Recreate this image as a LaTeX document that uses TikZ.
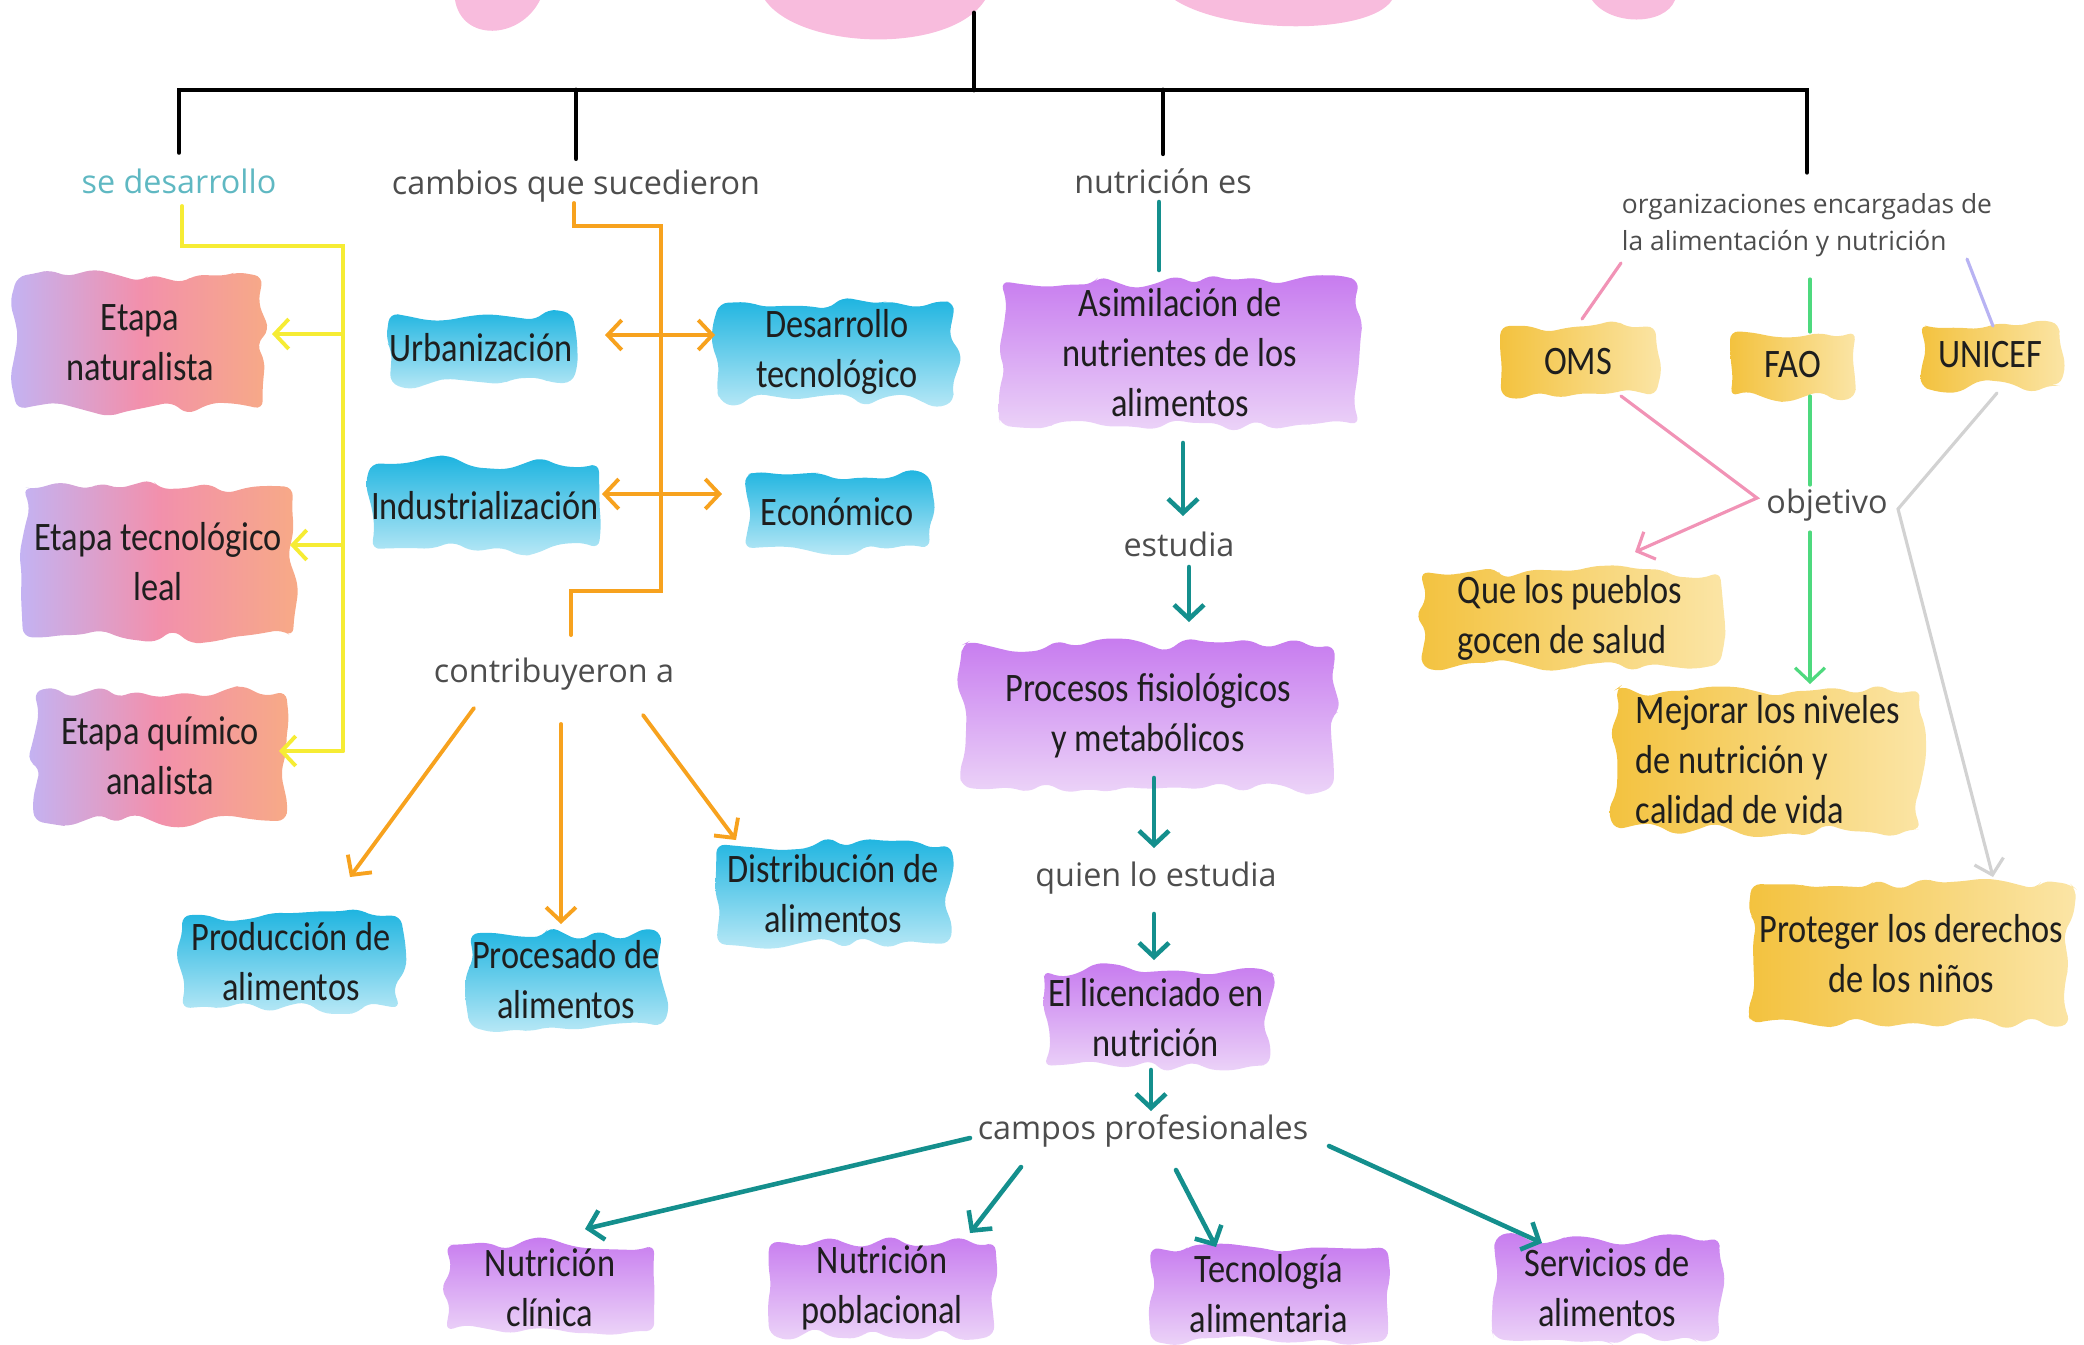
\documentclass[tikz,border=0pt]{standalone}
\usepackage{fontspec}
\setmainfont{Open Sans}
\newfontfamily\boxfont[FakeStretch=0.85]{Carlito}
\usetikzlibrary{arrows.meta,calc,decorations.pathmorphing}

\definecolor{titlepink}{HTML}{F8BCDD}
\definecolor{lblgray}{HTML}{4D4D4D}
\definecolor{sdteal}{HTML}{5FB8C2}
\definecolor{boxtext}{HTML}{1E1E1E}
\definecolor{etL}{HTML}{C3B3F3}
\definecolor{etM}{HTML}{F290AC}
\definecolor{etR}{HTML}{F7AA86}
\definecolor{cyanD}{HTML}{1DB4E0}
\definecolor{cyanL}{HTML}{B8E8F6}
\definecolor{lilaD}{HTML}{C77BEF}
\definecolor{lilaL}{HTML}{ECD4F8}
\definecolor{goldD}{HTML}{F3C23E}
\definecolor{goldL}{HTML}{FBE5A6}
\definecolor{ylw}{HTML}{F6EC34}
\definecolor{orng}{HTML}{F7A21E}
\definecolor{tl}{HTML}{148F8D}
\definecolor{pnk}{HTML}{F193B6}
\definecolor{grn}{HTML}{4ED97E}
\definecolor{lav}{HTML}{B8B3F3}
\definecolor{gry}{HTML}{D2D2D2}

\def\washamp{2.2pt}

\begin{document}
\begin{tikzpicture}[x=0.01cm, y=-0.01cm, line cap=round, >={Straight Barb[length=4pt,width=8.5pt]}]
    \pgfmathsetseed{12}
    \tikzstyle{lbl}=[font=\fontsize{9.2}{11}\selectfont, text=lblgray, inner sep=1pt]
    \tikzstyle{blob}=[align=center, font=\boxfont\fontsize{11.5}{14.2}\selectfont, text=boxtext, inner sep=0pt]
    \tikzset{bsz/.style 2 args={minimum width=#1*0.01cm, minimum height=#2*0.01cm}}
    \tikzstyle{wash}=[decorate, decoration={random steps, segment length=6pt, amplitude=\washamp}, rounded corners=2.5pt]
    \tikzstyle{etapa}=[blob, preaction={wash, left color=etL, right color=etR, middle color=etM}]
    \tikzstyle{cambio}=[blob, preaction={wash, top color=cyanD, bottom color=cyanL}]
    \tikzstyle{nutri}=[blob, preaction={wash, top color=lilaD, bottom color=lilaL}]
    \tikzstyle{organ}=[blob, preaction={wash, left color=goldD, right color=goldL}]
    \tikzstyle{tree}=[line width=1.4pt, draw=black]
    \tikzstyle{yline}=[line width=1.1pt, draw=ylw]
    \tikzstyle{oline}=[line width=1.1pt, draw=orng]
    \tikzstyle{tline}=[line width=1.3pt, draw=tl]
    \tikzstyle{thin}=[line width=0.9pt]

    \useasboundingbox (0,0) rectangle (2084,1344);

    % Title blob, cut by the top edge
    \fill[titlepink] (455,0) .. controls (462,42) and (520,40) .. (540,0) -- cycle;
    \fill[titlepink] (765,0) .. controls (800,50) and (950,55) .. (985,0) -- cycle;
    \fill[titlepink] (1175,0) .. controls (1230,35) and (1370,35) .. (1392,0) -- cycle;
    \fill[titlepink] (1592,0) .. controls (1610,26) and (1665,26) .. (1675,0) -- cycle;

    % Draw the linking words
    \node[lbl, text=sdteal] (SD) at (179,181) {se desarrollo};
    \node[lbl] (CB) at (576,186) {cambios que sucedieron};
    \node[lbl] (NE) at (1163,181) {nutrición es};
    \node[lbl, align=left, font=\fontsize{7.5}{10.5}\selectfont] (ORG) at (1807,225) {organizaciones encargadas de\\la alimentación y nutrición};
    \node[lbl] (CA) at (554,674) {contribuyeron a};
    \node[lbl] (ES) at (1179,544) {estudia};
    \node[lbl] (QE) at (1156,878) {quien lo estudia};
    \node[lbl] (CP) at (1143,1131) {campos profesionales};
    \node[lbl] (OB) at (1827,505) {objetivo};

    % Draw the stages
    \node[etapa, bsz={246}{133}] (E-1) at (140,343) {Etapa\\naturalista};
    \node[etapa, bsz={270}{150}] (E-2) at (158,562) {Etapa tecnológico\\leal};
    \node[etapa, bsz={252}{130}] (E-3) at (160,756) {Etapa químico\\analista};

    % Draw the changes
    \node[cambio, bsz={180}{70}] (UR) at (481,348) {Urbanización};
    \node[cambio, bsz={236}{98}] (DT) at (837,352) {Desarrollo\\tecnológico};
    \node[cambio, bsz={226}{86}] (IN) at (485,506) {Industrialización};
    \node[cambio, bsz={186}{73}] (EC) at (837,512) {Económico};
    \node[cambio, bsz={219}{93}] (PR) at (291,962) {Producción de\\alimentos};
    \node[cambio, bsz={193}{93}] (PC) at (566,980) {Procesado de\\alimentos};
    \node[cambio, bsz={233}{100}] (DI) at (833,894) {Distribución de\\alimentos};

    % Draw the nutrition column
    \node[nutri, bsz={359}{144}] (AS) at (1180,353) {Asimilación de\\nutrientes de los\\alimentos};
    \node[nutri, bsz={372}{142}] (PF) at (1148,716) {Procesos fisiológicos\\y metabólicos};
    \node[nutri, bsz={226}{96}] (LN) at (1156,1018) {El licenciado en\\nutrición};
    \node[nutri, bsz={209}{87}] (NC) at (550,1288) {Nutrición\\clínica};
    \node[nutri, bsz={226}{93}] (NP) at (882,1288) {Nutrición\\poblacional};
    \node[nutri, bsz={237}{94}] (TA) at (1269,1294) {Tecnología\\alimentaria};
    \node[nutri, bsz={226}{100}] (SA) at (1607,1288) {Servicios de\\alimentos};

    % Draw the organizations and their aims
    \node[organ, bsz={155}{70}] (OMS) at (1578,361) {OMS};
    \node[organ, bsz={126}{66}] (FAO) at (1793,364) {FAO};
    \node[organ, bsz={140}{62}] (UNI) at (1990,355) {UNICEF};
    \node[organ, bsz={300}{93}, align=left] (QP) at (1570,618) {Que los pueblos\\gocen de salud};
    \node[organ, bsz={306}{140}, align=left] (ME) at (1768,760) {Mejorar los niveles\\de nutrición y\\calidad de vida};
    \node[organ, bsz={319}{140}] (PD) at (1911,954) {Proteger los derechos\\de los niños};

    % Title tree
    \coordinate (T) at (974,13);
    \coordinate (B) at (974,90);
    \draw[tree] (T) -- (B);
    \draw[tree, shorten <=3.4pt, shorten >=4.8pt] (SD.north) |- (B) -| (ORG.north);
    \draw[tree, shorten >=2pt] (CB.north |- B) -- (CB.north);
    \draw[tree, shorten >=3pt] (NE.north |- B) -- (NE.north);

    % Stages: yellow bus
    \coordinate (ytop) at (343,246);
    \coordinate (ybot) at (343,751);
    \draw[yline] ($(SD)+(3,25)$) |- (ytop) -- (ybot);
    \foreach \e/\dx/\dy in {1/132/-9, 2/132/-17, 3/119/-5} {
        \path ($(E-\e)+(\dx,\dy)$) coordinate (tip-\e);
        \draw[yline,->] (ybot |- tip-\e) -- (tip-\e);
    }

    % Changes: orange bus
    \coordinate (otop) at (661,226);
    \coordinate (obot) at (661,591);
    \draw[oline] ($(CB)+(-2,17)$) |- (otop) -- (obot) -| ($(CA)+(17,-39)$);
    \draw[oline,<->] ($(UR)+(124,-13)$) -- ($(DT)+(-122,-17)$);
    \draw[oline,<->] ($(IN)+(117,-12)$) -- ($(EC)+(-115,-18)$);
    \foreach \b/\sx/\sy/\ex/\ey in {PR/-80/34/59/-85, PC/7/50/-5/-56, DI/89/41/-97/-54}
        \draw[oline,->] ($(CA)+(\sx,\sy)$) -- ($(\b)+(\ex,\ey)$);

    % Nutrition chain
    \draw[tline] ($(NE)+(-4,21)$) -- ($(AS)+(-21,-83)$);
    \foreach \a/\b/\sx/\sy/\ex/\ey in {AS/ES/3/90/4/-28, ES/PF/10/23/41/-94, PF/QE/6/62/-2/-30, QE/LN/-2/36/-2/-58, LN/CP/-5/52/8/-20}
        \draw[tline,->] ($(\a)+(\sx,\sy)$) -- ($(\b)+(\ex,\ey)$);
    \foreach \b/\sx/\sy/\ex/\ey in {NC/-173/7/35/-59, NP/-122/36/88/-55, TA/33/39/-53/-47, SA/186/15/-65/-45}
        \draw[tline,->] ($(CP)+(\sx,\sy)$) -- ($(\b)+(\ex,\ey)$);

    % Organizations
    \draw[thin, draw=pnk] ($(ORG)+(-186,38)$) -- ($(OMS)+(4,-42)$);
    \draw[thin, draw=grn] ($(ORG)+(3,54)$) -- ($(FAO)+(17,-32)$);
    \draw[thin, draw=lav] ($(ORG)+(160,34)$) -- ($(UNI)+(3,-29)$);
    \draw[thin, draw=grn] ($(FAO)+(17,32)$) -- ($(OB)+(-17,-20)$);
    \draw[thin, draw=grn, ->] ($(OB)+(-17,27)$) -- ($(ME)+(42,-76)$);
    \draw[thin, draw=pnk, ->] ($(OMS)+(43,35)$) -- ($(OB)+(-70,-7)$) -- ($(QP)+(65,-66)$);
    \draw[thin, draw=gry, ->] ($(UNI)+(7,38)$) -- ($(OB)+(71,4)$) -- ($(PD)+(82,-77)$);
\end{tikzpicture}
\end{document}
